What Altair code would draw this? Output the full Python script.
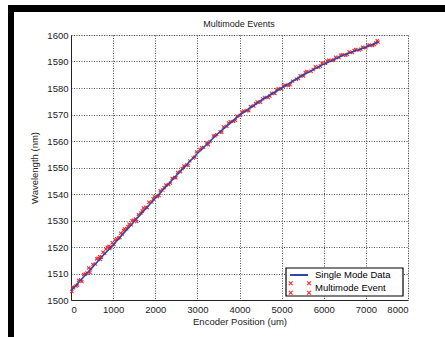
import altair as alt
import pandas as pd

# Single mode data (blue line)
line_x = [0, 250, 500, 750, 1000, 1500, 2000, 2500, 3000, 3500, 4000, 4500,
          5000, 5500, 6000, 6500, 7000, 7300]
line_y = [1503.5, 1507.8, 1512.2, 1516.6, 1520.8, 1529.6, 1538.4, 1547.0,
          1555.3, 1563.0, 1569.8, 1575.2, 1580.0, 1584.8, 1589.0, 1592.6,
          1595.4, 1597.4]

# Multimode events (red x markers)
mm_x = [20, 60, 120, 180, 230, 300, 380, 420, 470, 520, 580, 640, 680, 720,
        760, 800, 860, 900, 940, 980, 1020, 1080, 1130, 1180, 1220, 1270,
        1320, 1380, 1430, 1480, 1530, 1600, 1660, 1720, 1780, 1850, 1920,
        1980, 2050, 2120, 2180, 2250, 2320, 2400, 2460, 2530, 2600, 2680,
        2750, 2820, 2900, 2980, 3060, 3150, 3220, 3300, 3380, 3460, 3540,
        3620, 3700, 3780, 3860, 3940, 4020, 4100, 4180, 4260, 4340, 4420,
        4500, 4600, 4680, 4760, 4840, 4920, 5000, 5080, 5160, 5260, 5350,
        5440, 5520, 5600, 5700, 5800, 5880, 5960, 6040, 6120, 6200, 6280,
        6360, 6440, 6520, 6600, 6680, 6760, 6840, 6920, 7000, 7080, 7160,
        7230, 7290,
        # second pass along the band
        40, 150, 260, 340, 450, 610, 700, 830, 920, 1050, 1160, 1250, 1350,
        1450, 1560, 1690, 1810, 1950, 2090, 2210, 2360, 2490, 2640, 2780,
        2940, 3100, 3260, 3420, 3580, 3740, 3900, 4060, 4220, 4380, 4550,
        4720, 4880, 5040, 5200, 5400, 5560, 5750, 5920, 6080, 6240, 6400,
        6560, 6720, 6880, 7040, 7200, 7270]
mm_y = [1503.2, 1504.6, 1505.3, 1507.4, 1507.6, 1509.6, 1510.2, 1512.1,
        1511.8, 1513.4, 1513.6, 1515.8, 1516.3, 1516.2, 1518.0, 1517.6,
        1519.9, 1520.3, 1520.0, 1521.6, 1520.9, 1523.1, 1523.4, 1525.2,
        1524.9, 1526.8, 1526.9, 1528.6, 1528.4, 1530.1, 1530.6, 1532.2,
        1532.8, 1534.7, 1535.0, 1536.9, 1537.0, 1539.0, 1539.0, 1541.2,
        1541.5, 1543.4, 1543.6, 1545.9, 1546.2, 1548.1, 1548.4, 1550.6,
        1551.0, 1552.5, 1553.6, 1555.9, 1556.8, 1557.6, 1559.3, 1559.8,
        1561.9, 1562.4, 1563.5, 1565.3, 1565.6, 1567.3, 1567.4, 1569.4,
        1569.7, 1571.3, 1571.5, 1573.0, 1573.2, 1574.7, 1574.6, 1576.4,
        1576.4, 1578.0, 1577.9, 1579.7, 1579.6, 1581.1, 1580.9, 1582.6,
        1583.3, 1584.6, 1584.5, 1586.2, 1586.3, 1588.0, 1587.8, 1589.4,
        1589.3, 1590.5, 1590.4, 1591.6, 1591.5, 1592.6, 1592.3, 1593.6,
        1593.4, 1594.5, 1594.3, 1595.4, 1595.2, 1596.2, 1596.0, 1597.0,
        1597.3,
        1504.9, 1505.6, 1507.0, 1509.8, 1510.4, 1515.5, 1515.3, 1519.2,
        1519.4, 1522.7, 1523.6, 1526.2, 1527.7, 1529.9, 1529.6, 1533.6,
        1534.9, 1538.1, 1539.4, 1542.4, 1544.1, 1546.1, 1549.6, 1550.8,
        1553.9, 1557.5, 1558.6, 1562.0, 1563.3, 1566.8, 1567.8, 1571.0,
        1571.4, 1574.2, 1575.9, 1577.0, 1579.3, 1580.8, 1581.2, 1583.6,
        1585.9, 1587.0, 1588.3, 1590.2, 1590.6, 1592.4, 1592.7, 1594.2,
        1594.6, 1596.0, 1596.4, 1597.8]

x_ticks = [0, 1000, 2000, 3000, 4000, 5000, 6000, 7000, 8000]
y_ticks = [1500, 1510, 1520, 1530, 1540, 1550, 1560, 1570, 1580, 1590, 1600]

FONT = "Liberation Sans"
BLUE = "#2a48b0"
RED = "#ff2a2a"
XSHAPE = "M-1,-1L1,1M-1,1L1,-1"

line_df = pd.DataFrame({"x": line_x, "y": line_y})
mm_df = pd.DataFrame({"x": mm_x, "y": mm_y})

xscale = alt.Scale(domain=[0, 8000], nice=False)
yscale = alt.Scale(domain=[1500, 1600], nice=False, zero=False)

common = dict(grid=True, ticks=False, labelFont=FONT, titleFont=FONT,
              labelFontSize=9.5, titleFontSize=9.5, labelColor="#222",
              titleColor="#222", titleFontWeight="normal", domainColor="#222",
              domainWidth=1, gridColor="#333", gridDash=[1, 1.5],
              gridOpacity=0.85, gridWidth=1, labelOverlap=False)

xaxis = alt.Axis(values=x_ticks, format="d", title="Encoder Position (um)",
                 labelPadding=4, titlePadding=3, **common)
yaxis = alt.Axis(values=y_ticks, format="d", title="Wavelength (nm)",
                 labelPadding=3, titlePadding=7, **common)

pts = alt.Chart(mm_df).mark_point(
    shape=XSHAPE, filled=False, color=RED, strokeWidth=1.1, size=10, opacity=1
).encode(x=alt.X("x:Q", scale=xscale, axis=xaxis),
         y=alt.Y("y:Q", scale=yscale, axis=yaxis))

line = alt.Chart(line_df).mark_line(color=BLUE, strokeWidth=1.6).encode(
    x=alt.X("x:Q", scale=xscale, axis=xaxis),
    y=alt.Y("y:Q", scale=yscale, axis=yaxis))

one = alt.Data(values=[{}])

# title as text
title = alt.Chart(one).mark_text(
    text="Multimode Events", font=FONT, fontSize=9, color="#222",
    align="center", baseline="middle").encode(x=alt.value(168), y=alt.value(-11))

# legend box (decoration)
leg_box = alt.Chart(one).mark_rect(fill="white", stroke="black", strokeWidth=1.2).encode(
    x=alt.value(215), x2=alt.value(332), y=alt.value(233), y2=alt.value(261))
leg_line = alt.Chart(one).mark_rule(color=BLUE, strokeWidth=2).encode(
    x=alt.value(219), x2=alt.value(237), y=alt.value(240))
leg_pts = alt.Chart(pd.DataFrame({"px": [219.7, 238, 219.7, 238],
                                  "py": [248.3, 248.3, 257.7, 257.7]})).mark_point(
    shape=XSHAPE, filled=False, color=RED, strokeWidth=1.2, size=14, opacity=1
).encode(x=alt.X("px:Q", scale=None), y=alt.Y("py:Q", scale=None))
leg_text = alt.Chart(pd.DataFrame({"t": ["Single Mode Data", "Multimode Event"],
                                   "ty": [240, 253.3]})).mark_text(
    align="left", baseline="middle", font=FONT, fontSize=9.5, color="black"
).encode(x=alt.value(244), y=alt.Y("ty:Q", scale=None), text="t:N")

# black frame bars (decoration)
bar_top = alt.Chart(one).mark_rect(color="black").encode(
    x=alt.value(-63), x2=alt.value(374), y=alt.value(-30), y2=alt.value(-23))
bar_left = alt.Chart(one).mark_rect(color="black").encode(
    x=alt.value(-63), x2=alt.value(-57), y=alt.value(-30), y2=alt.value(302))

chart = alt.layer(pts, line, title, leg_box, leg_line, leg_pts, leg_text,
                  bar_top, bar_left).properties(
    width=337, height=265,
    padding={"left": 71, "top": 35, "right": 37, "bottom": 37},
    autosize=alt.AutoSizeParams(type="none"),
).configure_view(stroke=None).configure(background="white")

chart.save("out.html", embed_options={"renderer": "svg", "actions": False})
